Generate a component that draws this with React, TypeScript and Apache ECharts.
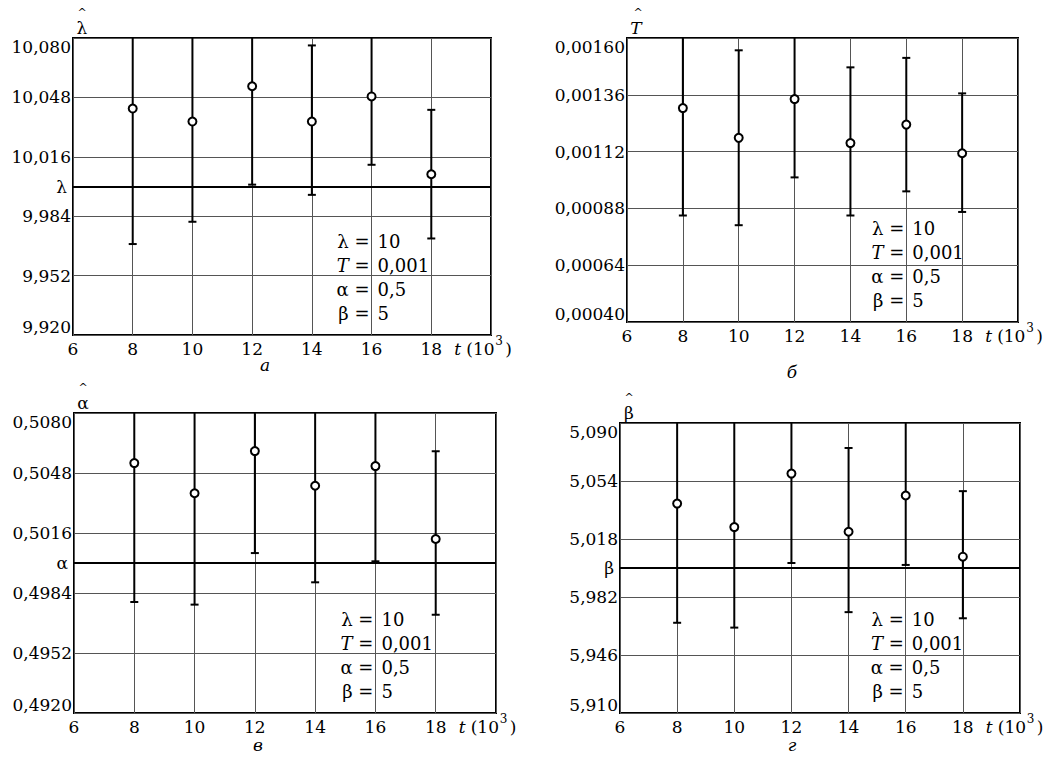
import React, { useEffect, useRef } from "react";
import * as echarts from "echarts";

// ---- data ----
const tValues = [8, 10, 12, 14, 16, 18];
const xTicks = ["6", "8", "10", "12", "14", "16", "18", ""];

// panel а (lambda)
const lamEst = [10.042, 10.035, 10.054, 10.035, 10.0485, 10.0066];
const lamLow = [9.969, 9.981, 10.001, 9.9955, 10.0117, 9.972];
const lamHigh = [10.115, 10.089, 10.107, 10.076, 10.085, 10.0413];
const lamTicks = ["9,920", "9,952", "9,984", "10,016", "10,048", "10,080"];

// panel б (T)
const tEst = [0.001304, 0.001178, 0.001342, 0.001156, 0.001234, 0.001113];
const tLow = [0.00085, 0.000809, 0.001011, 0.00085, 0.000952, 0.000865];
const tHigh = [0.00176, 0.001548, 0.00167, 0.001476, 0.001516, 0.001366];
const tTicks = ["0,00040", "0,00064", "0,00088", "0,00112", "0,00136", "0,00160"];

// panel в (alpha)
const aEst = [0.50533, 0.50372, 0.50597, 0.50412, 0.50517, 0.50128];
const aLow = [0.49792, 0.49778, 0.50053, 0.49897, 0.50009, 0.49724];
const aHigh = [0.5127, 0.5097, 0.5114, 0.5093, 0.5103, 0.50596];
const aTicks = ["0,4920", "0,4952", "0,4984", "0,5016", "0,5048", "0,5080"];

// panel г (beta)
const bEst = [5.04, 5.0254, 5.0586, 5.0225, 5.045, 5.007];
const bLow = [4.966, 4.963, 5.0031, 4.9726, 5.0019, 4.9688];
const bHigh = [5.114, 5.095, 5.114, 5.0745, 5.095, 5.0477];
const bTicks = ["5,910", "5,946", "5,982", "5,018", "5,054", "5,090"];

const legendNames = ["λ =", "T =", "α =", "β ="];
const legendValues = ["10", "0,001", "0,5", "5"];

const FONT = "DejaVu Serif";

type Panel = {
  est: number[];
  low: number[];
  high: number[];
  ticks: string[];
  min: number;
  interval: number;
  trueValue: number;
  trueLabel: string;
  trueItalic: boolean;
  hatSymbol: string;
  hatItalic: boolean;
  caption: string;
  box: { left: number; top: number; width: number; height: number };
};

const panels: Panel[] = [
  {
    est: lamEst, low: lamLow, high: lamHigh, ticks: lamTicks,
    min: 9.92, interval: 0.032, trueValue: 10, trueLabel: "λ", trueItalic: false,
    hatSymbol: "λ", hatItalic: false, caption: "а",
    box: { left: 73, top: 38, width: 418, height: 297 },
  },
  {
    est: tEst, low: tLow, high: tHigh, ticks: tTicks,
    min: 0.0004, interval: 0.00024, trueValue: 0.001, trueLabel: "T", trueItalic: true,
    hatSymbol: "T", hatItalic: true, caption: "б",
    box: { left: 627, top: 38, width: 391, height: 284 },
  },
  {
    est: aEst, low: aLow, high: aHigh, ticks: aTicks,
    min: 0.492, interval: 0.0032, trueValue: 0.5, trueLabel: "α", trueItalic: false,
    hatSymbol: "α", hatItalic: false, caption: "в",
    box: { left: 74, top: 413, width: 422, height: 300 },
  },
  {
    est: bEst, low: bLow, high: bHigh, ticks: bTicks,
    min: 4.91, interval: 0.036, trueValue: 5, trueLabel: "β", trueItalic: false,
    hatSymbol: "β", hatItalic: false, caption: "г",
    box: { left: 620, top: 423, width: 400, height: 290 },
  },
];

const captionPos = [
  [265, 365],
  [792, 372],
  [258, 745],
  [792, 745],
];

export default function App() {
  const ref = useRef<HTMLDivElement>(null);
  useEffect(() => {
    if (!ref.current) return;
    const chart = echarts.init(ref.current, undefined, { renderer: "svg" });

    const grids: any[] = [];
    const xAxes: any[] = [];
    const yAxes: any[] = [];
    const series: any[] = [];
    const graphics: any[] = [];

    const txt = (x: number, y: number, text: string, size: number, italic: boolean, align = "left", vAlign = "middle") => ({
      type: "text", x, y, z: 10,
      style: {
        text, fill: "#000", fontFamily: FONT, fontSize: size,
        fontStyle: italic ? "italic" : "normal", align, verticalAlign: vAlign,
      },
    });

    panels.forEach((p, i) => {
      const max = p.min + p.interval * 5;
      grids.push({
        left: p.box.left, top: p.box.top, width: p.box.width, height: p.box.height,
        show: true, borderColor: "#000", borderWidth: 2,
      });
      xAxes.push({
        type: "value", gridIndex: i, min: 6, max: 20, interval: 2,
        axisLine: { show: false }, axisTick: { show: false },
        splitLine: { show: true, lineStyle: { color: "#555", width: 1 } },
        axisLabel: {
          color: "#000", fontFamily: FONT, fontSize: 17, margin: 5,
          formatter: (v: number) => xTicks[Math.round((v - 6) / 2)] ?? "",
        },
      });
      yAxes.push({
        type: "value", gridIndex: i, min: p.min, max: max, interval: p.interval,
        axisLine: { show: false }, axisTick: { show: false },
        splitLine: { show: true, lineStyle: { color: "#555", width: 1 } },
        axisLabel: {
          color: "#000", fontFamily: FONT, fontSize: 17, margin: 2,
          verticalAlignMinLabel: "bottom",
          verticalAlignMaxLabel: "top",
          formatter: (v: number) => p.ticks[Math.round((v - p.min) / p.interval)] ?? "",
        },
      });

      const ebData = tValues.map((t, k) => [t, p.low[k], p.high[k]]);
      series.push({
        type: "custom",
        xAxisIndex: i, yAxisIndex: i,
        z: 5,
        data: ebData,
        renderItem: (params: any, api: any) => {
          const cs = params.coordSys;
          const x = api.coord([api.value(0), api.value(1)])[0];
          let yLow = api.coord([api.value(0), api.value(1)])[1];
          let yHigh = api.coord([api.value(0), api.value(2)])[1];
          const topY = cs.y;
          const botY = cs.y + cs.height;
          const children: any[] = [];
          const capTop = yHigh >= topY;
          const capBot = yLow <= botY;
          yHigh = Math.max(yHigh, topY);
          yLow = Math.min(yLow, botY);
          const st = { stroke: "#000", lineWidth: 2 };
          children.push({ type: "line", shape: { x1: x, y1: yHigh, x2: x, y2: yLow }, style: st });
          if (capTop) children.push({ type: "line", shape: { x1: x - 4, y1: yHigh, x2: x + 4, y2: yHigh }, style: st });
          if (capBot) children.push({ type: "line", shape: { x1: x - 4, y1: yLow, x2: x + 4, y2: yLow }, style: st });
          return { type: "group", children };
        },
      });

      series.push({
        type: "scatter",
        xAxisIndex: i, yAxisIndex: i,
        z: 6,
        symbol: "circle",
        symbolSize: 8,
        itemStyle: { color: "#fff", borderColor: "#000", borderWidth: 2, opacity: 1 },
        data: tValues.map((t, k) => [t, p.est[k]]),
        markLine: {
          silent: true,
          symbol: "none",
          lineStyle: { color: "#000", width: 2, type: "solid" },
          label: {
            show: true, position: "start", distance: 6,
            formatter: p.trueLabel, color: "#000", fontFamily: FONT, fontSize: 17,
            fontStyle: p.trueItalic ? "italic" : "normal",
          },
          data: [{ yAxis: p.trueValue }],
        },
      });

      const { left, top, width, height } = p.box;
      const bottom = top + height;
      const x16 = left + ((16 - 6) / 14) * width;
      const x18 = left + ((18 - 6) / 14) * width;

      // hat symbol above the axis
      graphics.push(txt(left + 9, top - 10, p.hatSymbol, 17, p.hatItalic, "center"));
      graphics.push(txt(left + (p.hatItalic ? 11 : 9), top - 26, "^", 11, false, "center"));

      // parameter block
      const offs = [-94, -70, -46, -22];
      legendNames.forEach((nm, k) => {
        graphics.push(txt(x16 - 2, bottom + offs[k], nm, 18, k === 1, "right"));
        graphics.push(txt(x16 + 6, bottom + offs[k], legendValues[k], 18, false, "left"));
      });

      // axis title t (10^3)
      const x0 = x18 + 23;
      const yc = bottom + 14;
      graphics.push(txt(x0, yc, "t", 17, true));
      graphics.push(txt(x0 + 12, yc, "(10", 17, false));
      graphics.push(txt(x0 + 41, yc - 8, "3", 12, false));
      graphics.push(txt(x0 + 51, yc, ")", 17, false));

      // caption
      graphics.push(txt(captionPos[i][0], captionPos[i][1], p.caption, 17, true, "center"));
    });

    chart.setOption({
      animation: false,
      backgroundColor: "#fff",
      textStyle: { fontFamily: FONT },
      grid: grids,
      xAxis: xAxes,
      yAxis: yAxes,
      series,
      graphic: graphics,
    });

    return () => chart.dispose();
  }, []);

  return (
    <div
      ref={ref}
      style={{ position: "fixed", left: 0, top: 0, width: 1051, height: 758, background: "#fff" }}
    />
  );
}
